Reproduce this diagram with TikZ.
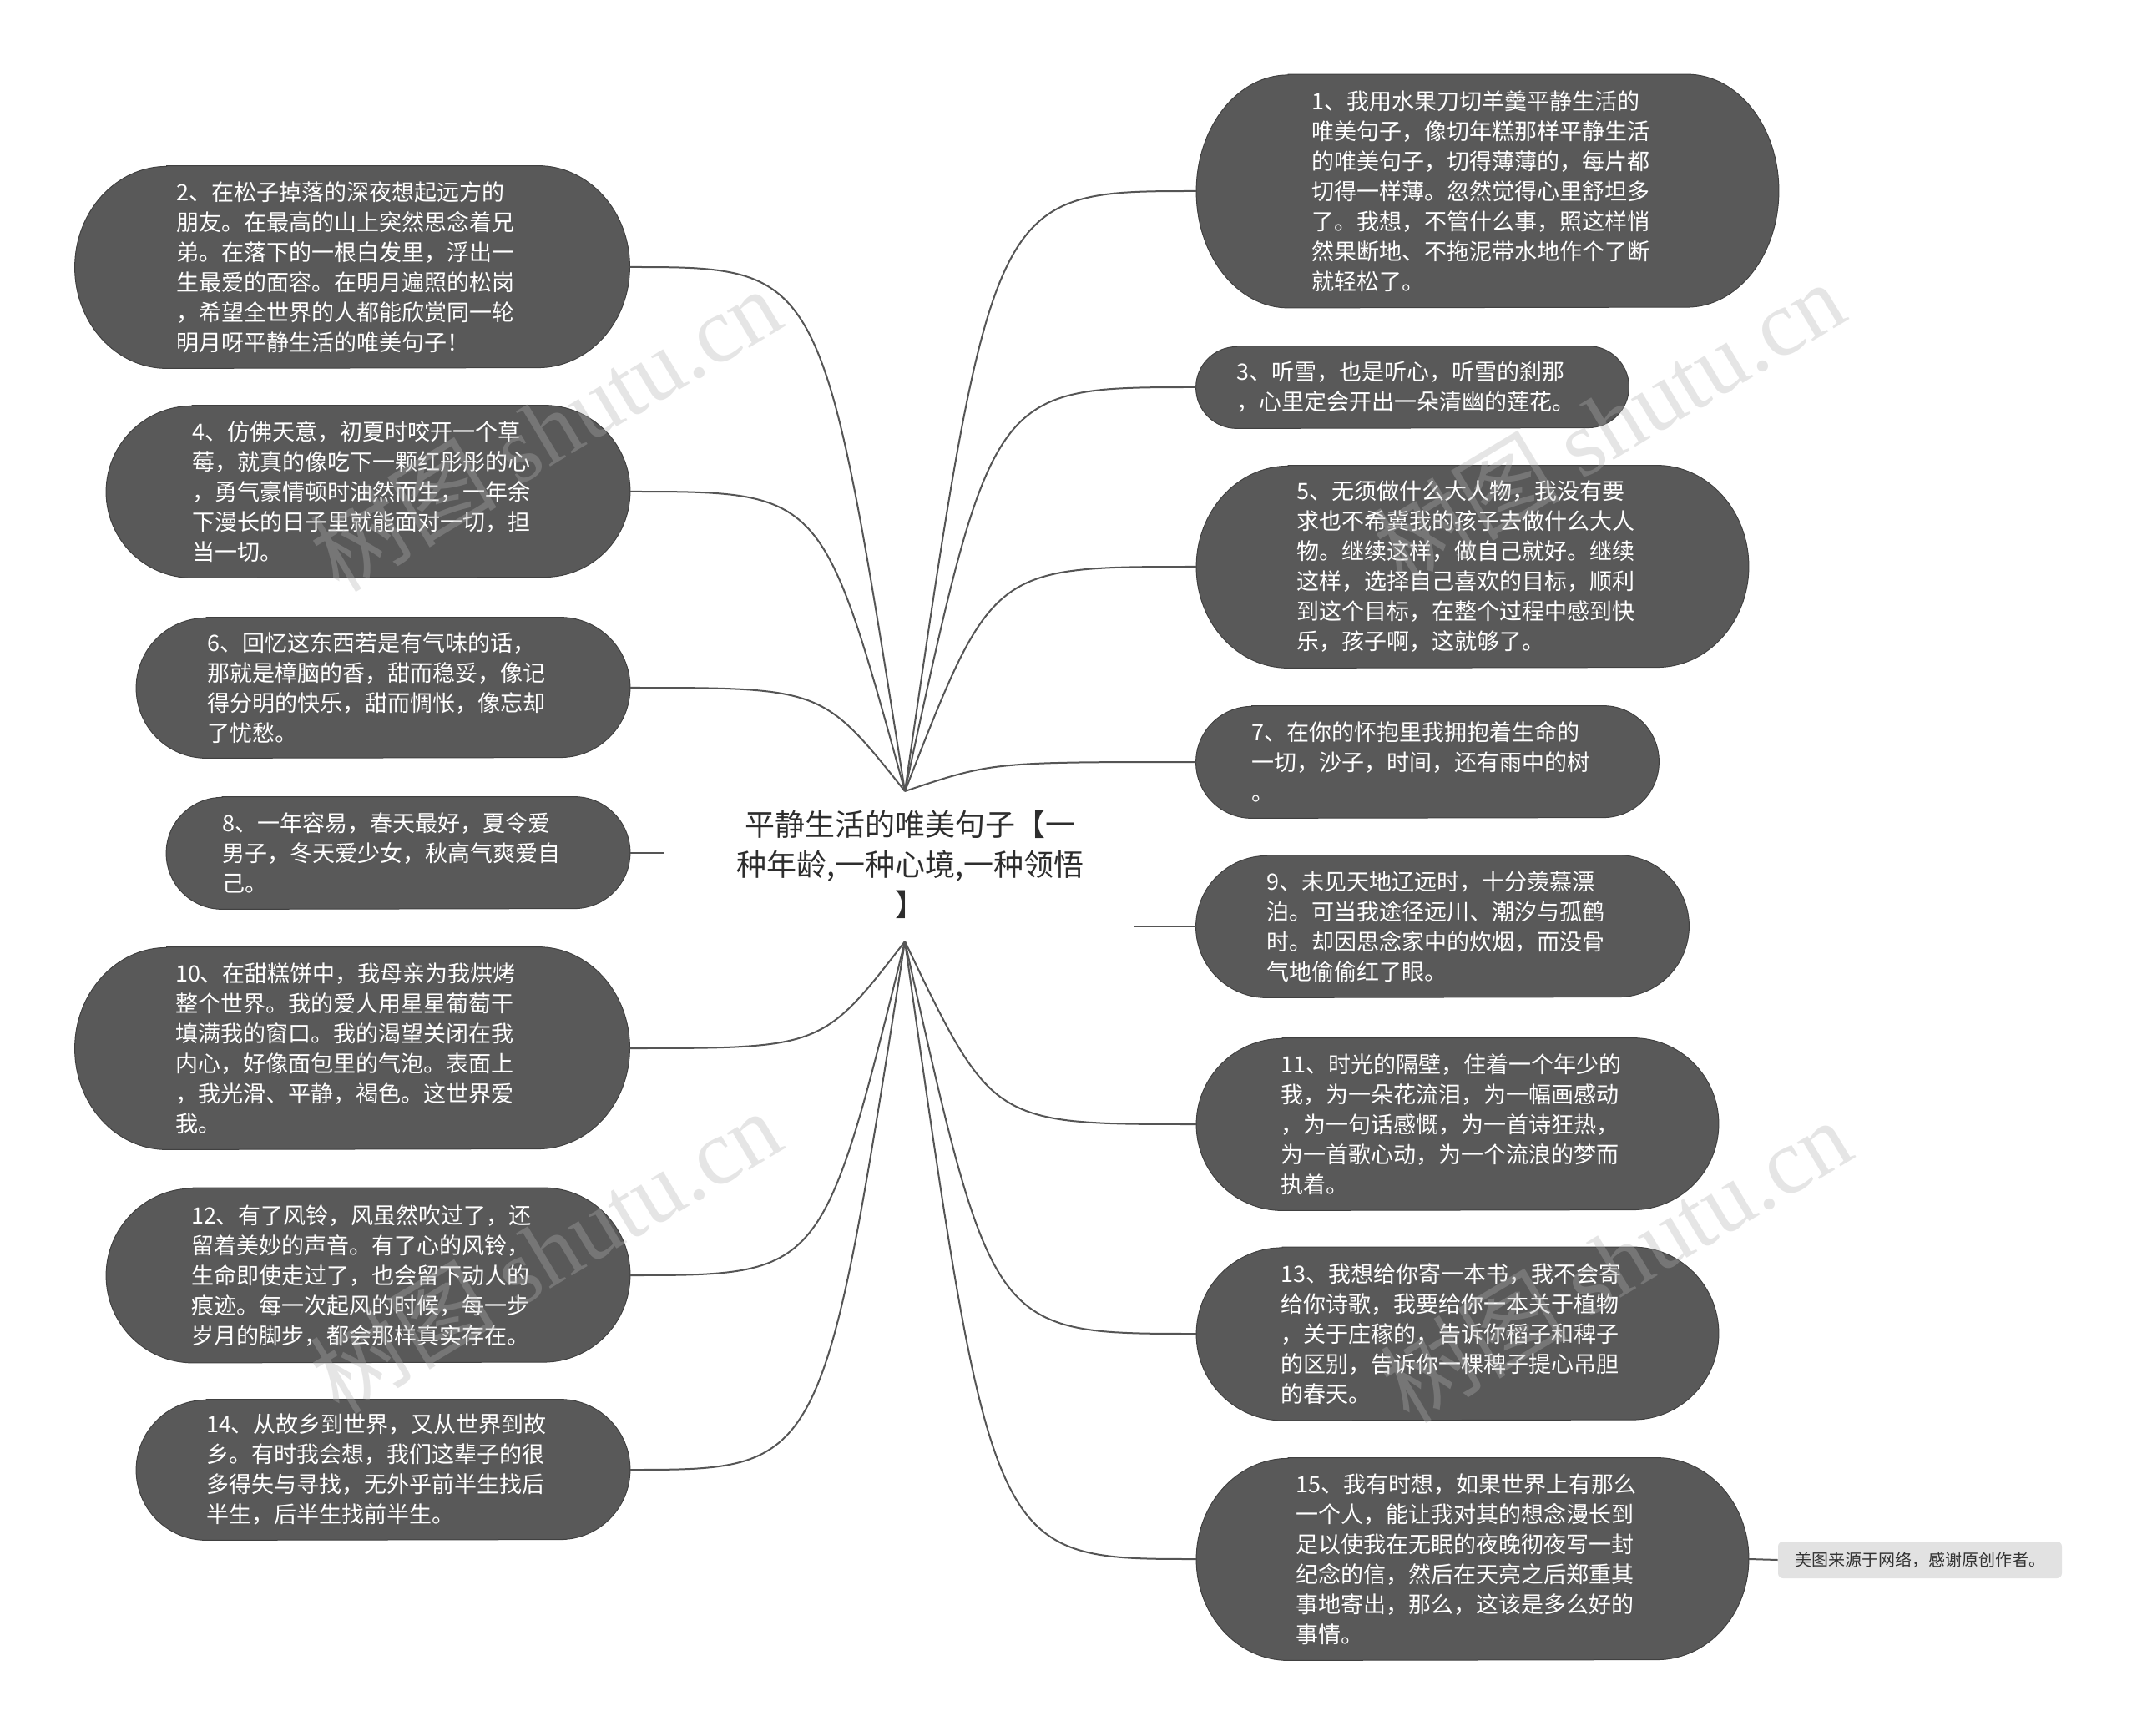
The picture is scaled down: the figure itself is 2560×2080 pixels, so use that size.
\documentclass[tikz,border=0pt]{standalone}
\usepackage{fontspec}
\setmainfont{Noto Sans CJK SC}
\newfontfamily\wmfont{Liberation Serif}
\usetikzlibrary{calc}
\pgfdeclarelayer{background}
\pgfdeclarelayer{paper}
\pgfsetlayers{paper,background,main}
\definecolor{bubgray}{RGB}{89,89,89}
\definecolor{linegray}{RGB}{85,85,85}
\definecolor{topictext}{RGB}{45,45,45}
\definecolor{notefill}{RGB}{226,226,226}
\tikzset{
  bubshape/.style={inner sep=0pt},
  bubtext/.style={inner sep=0pt, align=left, text=white, font=\fontsize{13.5}{18}\selectfont},
  bubfill/.style={fill=bubgray, draw=black!75, line width=0.5pt},
  conn/.style={draw=linegray, line width=1pt},
  topic/.style={inner sep=0pt, align=center, text=topictext, font=\fontsize{18}{24}\selectfont},
  notebox/.style={fill=notefill, rounded corners=3pt, inner sep=0pt, text=black!80, font=\fontsize{10}{12}\selectfont},
  wm/.style={text=black!30, opacity=0.33, font=\fontsize{56}{60}\selectfont, inner sep=0pt}
}
\newcommand\bub[8]{%
  \node[bubshape, minimum width=#4pt, minimum height=#5pt] (#1) at (#2,#3) {};
  \node[bubtext] (#1t) at ([xshift=-4pt]#1.center) {#8};
  \begin{pgfonlayer}{background}
    \path[bubfill] ([xshift=#6pt]#1.north west) -- ([xshift=-#6pt]#1.north east)
      arc[start angle=90, end angle=-90, x radius=#6pt, y radius=#7pt]
      -- ([xshift=#6pt]#1.south west)
      arc[start angle=270, end angle=90, x radius=#6pt, y radius=#7pt] -- cycle;
  \end{pgfonlayer}}
\newcommand\lnk[2]{\draw[conn] (#1) .. controls ($(#1 |- #2)!0.3!(#2)$) .. (#2);}
\begin{document}
\begin{tikzpicture}[x=0.5pt,y=-0.5pt]
\useasboundingbox (0,0) rectangle (2560,2080);
\begin{pgfonlayer}{paper}
\fill[white] (0,0) rectangle (2560,2080);
\end{pgfonlayer}

% central topic
\node[topic] (topic) at (1090,1036) {平静生活的唯美句子【一\\种年龄,一种心境,一种领悟\\】};
\coordinate (hubT) at (1084,948);
\coordinate (hubB) at (1084,1128);
\coordinate (hubL) at (795,1022);
\coordinate (hubR) at (1358,1110);

% left branches
\bub{n2}{422}{320}{332}{121}{55}{60.5}{2、在松子掉落的深夜想起远方的\\朋友。在最高的山上突然思念着兄\\弟。在落下的一根白发里，浮出一\\生最爱的面容。在明月遍照的松岗\\，希望全世界的人都能欣赏同一轮\\明月呀平静生活的唯美句子！}
\bub{n4}{441}{589}{313.5}{103}{51.5}{51.5}{4、仿佛天意，初夏时咬开一个草\\莓，就真的像吃下一颗红彤彤的心\\，勇气豪情顿时油然而生，一年余\\下漫长的日子里就能面对一切，担\\当一切。}
\bub{n6}{459}{824}{295.5}{84}{42}{42}{6、回忆这东西若是有气味的话，\\那就是樟脑的香，甜而稳妥，像记\\得分明的快乐，甜而惆怅，像忘却\\了忧愁。}
\bub{n8}{477}{1022}{277.5}{67}{33.5}{33.5}{8、一年容易，春天最好，夏令爱\\男子，冬天爱少女，秋高气爽爱自\\己。}
\bub{n10}{422}{1256}{332}{121}{55}{60.5}{10、在甜糕饼中，我母亲为我烘烤\\整个世界。我的爱人用星星葡萄干\\填满我的窗口。我的渴望关闭在我\\内心，好像面包里的气泡。表面上\\，我光滑、平静，褐色。这世界爱\\我。}
\bub{n12}{441}{1528}{313.5}{104.5}{52}{52.25}{12、有了风铃，风虽然吹过了，还\\留着美妙的声音。有了心的风铃，\\生命即使走过了，也会留下动人的\\痕迹。每一次起风的时候，每一步\\岁月的脚步，都会那样真实存在。}
\bub{n14}{459}{1761}{295.5}{84}{42}{42}{14、从故乡到世界，又从世界到故\\乡。有时我会想，我们这辈子的很\\多得失与寻找，无外乎前半生找后\\半生，后半生找前半生。}

% right branches
\bub{n1}{1782}{229}{348.5}{139.5}{55}{69.75}{1、我用水果刀切羊羹平静生活的\\唯美句子，像切年糕那样平静生活\\的唯美句子，切得薄薄的，每片都\\切得一样薄。忽然觉得心里舒坦多\\了。我想，不管什么事，照这样悄\\然果断地、不拖泥带水地作个了断\\就轻松了。}
\bub{n3}{1692}{464}{259}{49}{24.5}{24.5}{3、听雪，也是听心，听雪的刹那\\，心里定会开出一朵清幽的莲花。}
\bub{n5}{1764}{679}{330.5}{121}{55}{60.5}{5、无须做什么大人物，我没有要\\求也不希冀我的孩子去做什么大人\\物。继续这样，做自己就好。继续\\这样，选择自己喜欢的目标，顺利\\到这个目标，在整个过程中感到快\\乐，孩子啊，这就够了。}
\bub{n7}{1710}{913}{277}{67}{33.5}{33.5}{7、在你的怀抱里我拥抱着生命的\\一切，沙子，时间，还有雨中的树\\。}
\bub{n9}{1728}{1110}{295}{85}{42.5}{42.5}{9、未见天地辽远时，十分羡慕漂\\泊。可当我途径远川、潮汐与孤鹤\\时。却因思念家中的炊烟，而没骨\\气地偷偷红了眼。}
\bub{n11}{1746}{1347}{312.5}{103}{51.5}{51.5}{11、时光的隔壁，住着一个年少的\\我，为一朵花流泪，为一幅画感动\\，为一句话感慨，为一首诗狂热，\\为一首歌心动，为一个流浪的梦而\\执着。}
\bub{n13}{1746}{1598}{312.5}{103.5}{51.5}{51.75}{13、我想给你寄一本书，我不会寄\\给你诗歌，我要给你一本关于植物\\，关于庄稼的，告诉你稻子和稗子\\的区别，告诉你一棵稗子提心吊胆\\的春天。}
\bub{n15}{1764}{1868}{330.5}{121}{55}{60.5}{15、我有时想，如果世界上有那么\\一个人，能让我对其的想念漫长到\\足以使我在无眠的夜晚彻夜写一封\\纪念的信，然后在天亮之后郑重其\\事地寄出，那么，这该是多么好的\\事情。}

% note
\node[notebox, minimum width=170pt, minimum height=22pt] (note) at (2300,1869) {美图来源于网络，感谢原创作者。};

% connectors
\lnk{hubT}{n2.east}
\lnk{hubT}{n4.east}
\lnk{hubT}{n6.east}
\lnk{hubT}{n1.west}
\lnk{hubT}{n3.west}
\lnk{hubT}{n5.west}
\lnk{hubT}{n7.west}
\lnk{hubB}{n10.east}
\lnk{hubB}{n12.east}
\lnk{hubB}{n14.east}
\lnk{hubB}{n11.west}
\lnk{hubB}{n13.west}
\lnk{hubB}{n15.west}
\draw[conn] (n8.east) -- (hubL);
\draw[conn] (hubR) -- (n9.west);
\draw[conn] (n15.east) -- (note.west);

% watermarks
\node[wm, rotate=31] (wm1) at (653,514) {树图 {\wmfont shutu.cn}};
\node[wm, rotate=31] (wm2) at (1927,506) {树图 {\wmfont shutu.cn}};
\node[wm, rotate=31] (wm3) at (653,1499) {树图 {\wmfont shutu.cn}};
\node[wm, rotate=31] (wm4) at (1935,1510) {树图 {\wmfont shutu.cn}};
\end{tikzpicture}
\end{document}
